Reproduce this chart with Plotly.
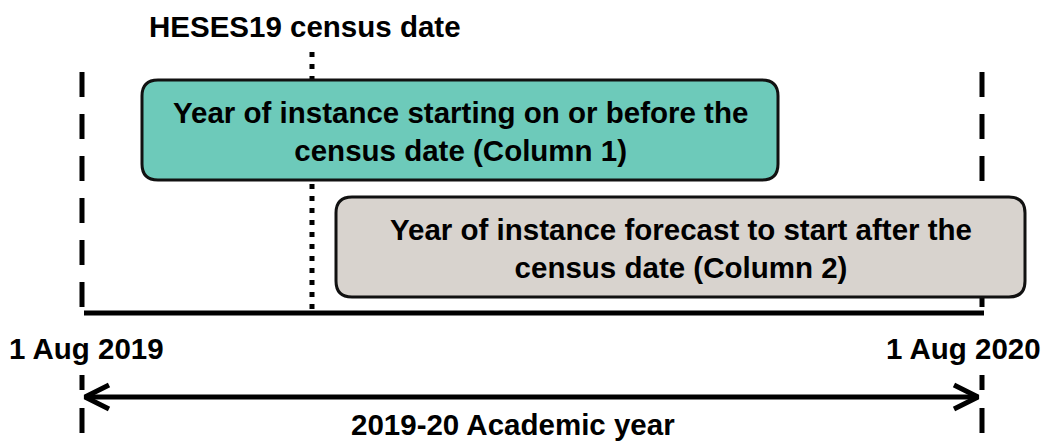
import plotly.graph_objects as go

# ---- content ----
census_label = "HESES19 census date"
date_labels = ["1 Aug 2019", "1 Aug 2020"]
period_label = "2019-20 Academic year"
box_texts = [
    "Year of instance starting on or before the<br>census date (Column 1)",
    "Year of instance forecast to start after the<br>census date (Column 2)",
]
box_colors = ["#6DCABA", "#D8D3CE"]

# ---- geometry (pixel canvas) ----
W, H = 1045, 442
X_START, X_END, X_CENSUS = 82, 982, 312
Y_BASE = 313
Y_ARROW = 397
boxes = [(142, 80, 778, 180), (336, 197, 1025, 297)]
R = 16

FONT = dict(family="Liberation Sans, Arial, sans-serif", size=29.5, color="#000000", weight="bold")

fig = go.Figure()

def line(xs, ys, width=5, dash="solid", color="#000000"):
    fig.add_trace(go.Scatter(x=xs, y=ys, mode="lines", hoverinfo="skip",
                             line=dict(color=color, width=width, dash=dash), showlegend=False))

# vertical dashed lines (upper and lower parts)
for xv in (X_START, X_END):
    line([xv, xv], [72, 310], dash="25px,17px")
    line([xv, xv], [375, 433], dash="15px,18px,25px,20px")

# census dotted line
line([X_CENSUS, X_CENSUS], [52, 310], dash="5px,7px")

# baseline
line([X_START + 2, X_END + 2], [Y_BASE, Y_BASE], width=5)

# double-headed arrow
line([X_START + 3, X_END - 4], [Y_ARROW, Y_ARROW], width=5)
line([X_START + 27, X_START + 3, X_START + 27], [Y_ARROW - 12, Y_ARROW, Y_ARROW + 12], width=5)
line([X_END - 28, X_END - 4, X_END - 28], [Y_ARROW - 12, Y_ARROW, Y_ARROW + 12], width=5)

# rounded boxes
def rrect(x0, y0, x1, y1, r):
    return (f"M {x0+r},{y0} L {x1-r},{y0} Q {x1},{y0} {x1},{y0+r} "
            f"L {x1},{y1-r} Q {x1},{y1} {x1-r},{y1} L {x0+r},{y1} "
            f"Q {x0},{y1} {x0},{y1-r} L {x0},{y0+r} Q {x0},{y0} {x0+r},{y0} Z")

shapes = []
for (x0, y0, x1, y1), col in zip(boxes, box_colors):
    shapes.append(dict(type="path", path=rrect(x0, y0, x1, y1, R), xref="x", yref="y",
                       fillcolor=col, line=dict(color="#111111", width=3), layer="above"))

annotations = []
for (x0, y0, x1, y1), txt in zip(boxes, box_texts):
    annotations.append(dict(x=(x0 + x1) / 2, y=(y0 + y1) / 2 + 1, text=txt, showarrow=False,
                            xanchor="center", yanchor="middle", font=FONT, align="center"))

annotations.append(dict(x=305, y=26, text=census_label, showarrow=False,
                        xanchor="center", yanchor="middle", font=FONT))
annotations.append(dict(x=86, y=348, text=date_labels[0], showarrow=False,
                        xanchor="center", yanchor="middle", font=FONT))
annotations.append(dict(x=963, y=348, text=date_labels[1], showarrow=False,
                        xanchor="center", yanchor="middle", font=FONT))
annotations.append(dict(x=513, y=424, text=period_label, showarrow=False,
                        xanchor="center", yanchor="middle", font=FONT))

fig.update_layout(
    width=W, height=H, margin=dict(l=0, r=0, t=0, b=0),
    paper_bgcolor="white", plot_bgcolor="white",
    xaxis=dict(range=[0, W], visible=False, fixedrange=True),
    yaxis=dict(range=[H, 0], visible=False, fixedrange=True),
    shapes=shapes, annotations=annotations, showlegend=False,
)

fig.write_html("out.html", config={"displayModeBar": False},
               post_script="document.body.style.margin='0';document.body.style.overflow='hidden';")
